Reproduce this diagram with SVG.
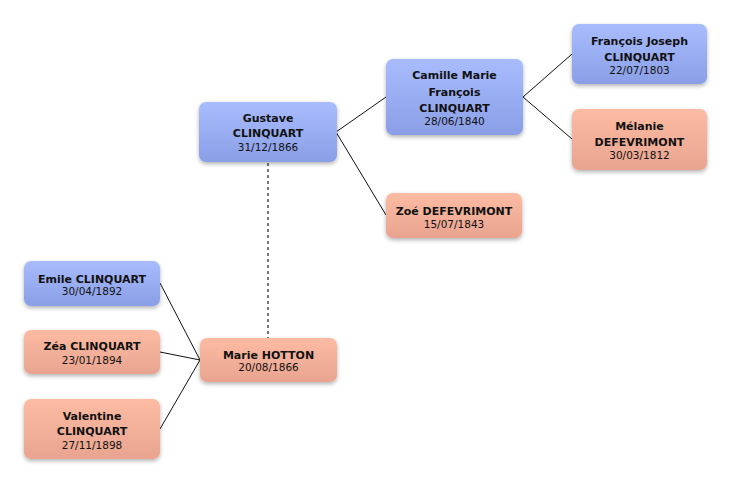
<svg xmlns="http://www.w3.org/2000/svg" width="732" height="484" viewBox="0 0 732 484">
<defs>
<linearGradient id="gm" x1="0" y1="0" x2="0" y2="1"><stop offset="0" stop-color="#a8bcfd"/><stop offset="1" stop-color="#8a9ee6"/></linearGradient>
<linearGradient id="gf" x1="0" y1="0" x2="0" y2="1"><stop offset="0" stop-color="#fdbba3"/><stop offset="1" stop-color="#e8a48f"/></linearGradient>
<filter id="sh" x="-10%" y="-20%" width="120%" height="150%"><feDropShadow dx="0" dy="2" stdDeviation="2" flood-color="#000" flood-opacity="0.3"/></filter>
</defs>
<style>
.m{fill:url(#gm);filter:url(#sh)}
.f{fill:url(#gf);filter:url(#sh)}
text{font-family:"DejaVu Sans",Verdana,sans-serif;text-anchor:middle;fill:#111}
.n{font-size:11px;font-weight:bold}
.d{font-size:10.5px}
.c{fill:none;stroke:#111;stroke-width:1}
.dot{fill:none;stroke:#777;stroke-width:2;stroke-dasharray:3,3}
</style>
<rect width="732" height="484" fill="#fff"/>
<g id="connectors">
<polyline class="c" points="386,97 336,132 386,215"/>
<polyline class="c" points="572,54 523,97 572,139"/>
<line class="c" x1="160" y1="283" x2="200" y2="360"/>
<line class="c" x1="160" y1="352" x2="200" y2="360"/>
<line class="c" x1="160" y1="429" x2="200" y2="360"/>
<line class="dot" x1="268" y1="163" x2="268" y2="338"/>
</g>
<g id="gustave"><rect class="m" x="199" y="102" width="138" height="60" rx="7"/><text class="n" x="268" y="122">Gustave</text><text class="n" x="268" y="137">CLINQUART</text><text class="d" x="268" y="151">31/12/1866</text></g>
<g id="camille"><rect class="m" x="386" y="59" width="137" height="76" rx="7"/><text class="n" x="454.5" y="79">Camille Marie</text><text class="n" x="454.5" y="95.5">François</text><text class="n" x="454.5" y="112">CLINQUART</text><text class="d" x="454.5" y="125">28/06/1840</text></g>
<g id="francois"><rect class="m" x="572" y="24" width="135" height="60" rx="7"/><text class="n" x="639.5" y="44.5">François Joseph</text><text class="n" x="639.5" y="61">CLINQUART</text><text class="d" x="639.5" y="74">22/07/1803</text></g>
<g id="melanie"><rect class="f" x="572" y="109" width="135" height="61" rx="7"/><text class="n" x="639.5" y="130">Mélanie</text><text class="n" x="639.5" y="146">DEFEVRIMONT</text><text class="d" x="639.5" y="159">30/03/1812</text></g>
<g id="zoe"><rect class="f" x="386" y="193" width="136" height="45" rx="7"/><text class="n" x="454" y="214.5">Zoé DEFEVRIMONT</text><text class="d" x="454" y="228">15/07/1843</text></g>
<g id="marie"><rect class="f" x="200" y="338" width="137" height="44" rx="7"/><text class="n" x="268.5" y="358.5">Marie HOTTON</text><text class="d" x="268.5" y="371">20/08/1866</text></g>
<g id="emile"><rect class="m" x="24" y="261" width="136" height="45" rx="7"/><text class="n" x="92" y="282.5">Emile CLINQUART</text><text class="d" x="92" y="294.5">30/04/1892</text></g>
<g id="zea"><rect class="f" x="24" y="330" width="136" height="44" rx="7"/><text class="n" x="92" y="350">Zéa CLINQUART</text><text class="d" x="92" y="363.5">23/01/1894</text></g>
<g id="valentine"><rect class="f" x="24" y="399" width="136" height="60" rx="7"/><text class="n" x="92" y="420">Valentine</text><text class="n" x="92" y="435">CLINQUART</text><text class="d" x="92" y="448.5">27/11/1898</text></g>
</svg>
